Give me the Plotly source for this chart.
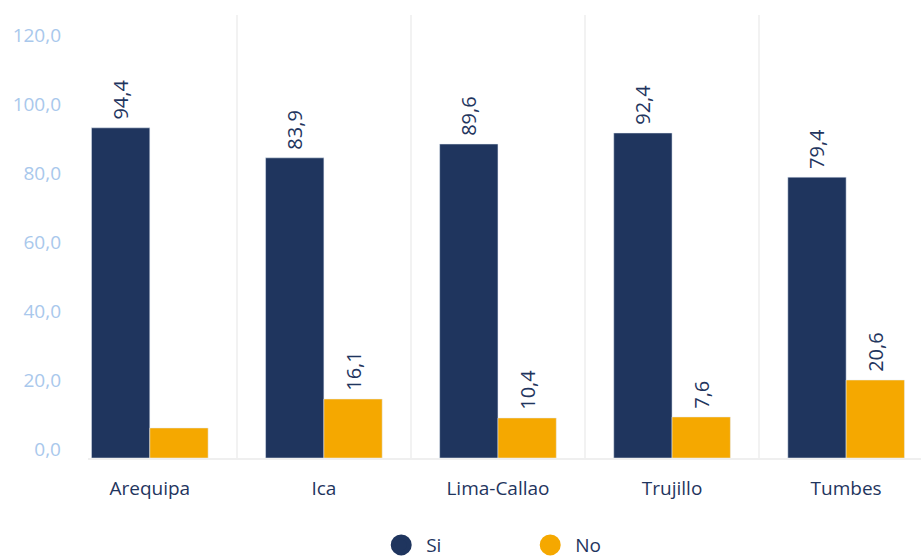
import plotly.graph_objects as go

categories = ["Arequipa", "Ica", "Lima-Callao", "Trujillo", "Tumbes"]
si_values = [95.7, 87.0, 91.0, 94.2, 81.4]
no_values = [8.7, 17.1, 11.6, 11.9, 22.6]
si_labels = ["94,4", "83,9", "89,6", "92,4", "79,4"]
no_labels = ["", "16,1", "10,4", "7,6", "20,6"]
y_ticks = [0, 20, 40, 60, 80, 100, 120]

NAVY = "#1f355e"
ORANGE = "#f5a800"
FONT = "Open Sans"
pad = "\u00a0"

fig = go.Figure()
fig.add_trace(go.Bar(
    x=categories, y=si_values, name="Si", marker_color=NAVY,
    text=[pad + t for t in si_labels], textposition="outside", textangle=-90,
    textfont=dict(color=NAVY, size=20, family=FONT), cliponaxis=False,
    showlegend=False,
))
fig.add_trace(go.Bar(
    x=categories, y=no_values, name="No", marker_color=ORANGE,
    text=[(pad + t) if t else "" for t in no_labels], textposition="outside", textangle=-90,
    textfont=dict(color=NAVY, size=20, family=FONT), cliponaxis=False,
    showlegend=False,
))
for nm, col in [("Si", NAVY), ("No", ORANGE)]:
    fig.add_trace(go.Scatter(
        x=[None], y=[None], mode="markers", name="\u00a0" + nm,
        marker=dict(symbol="circle", size=16, color=col, line=dict(color=col, width=12)),
    ))

fig.update_layout(
    width=921, height=559,
    margin=dict(l=88, r=0, t=15, b=101, pad=0),
    plot_bgcolor="white", paper_bgcolor="white",
    barmode="group", bargap=0.33, bargroupgap=0,
    separators=",.",
    font=dict(family=FONT, color=NAVY),
    legend=dict(orientation="h", x=0.352, xanchor="left", yref="container", y=0.025,
                yanchor="middle", tracegroupgap=0, borderwidth=0,
                font=dict(size=19, color=NAVY, family=FONT), entrywidth=104,
                itemsizing="trace"),
    xaxis=dict(
        range=[-0.355, 4.43], showgrid=True, gridcolor="#f2f2f2", gridwidth=2,
        tickson="boundaries", ticks="", showline=True, linecolor="#efefef", linewidth=2,
        tickfont=dict(size=19, color=NAVY, family=FONT), ticklabelstandoff=12,
        automargin=False,
    ),
    yaxis=dict(
        range=[0, 128.4], tickvals=y_ticks, tickformat=".1f", showgrid=False,
        zeroline=False, showline=False, ticks="",
        tickfont=dict(size=19, color="#a9c8ec", family=FONT),
        ticklabelshift=-9, ticklabelstandoff=26, automargin=False,
    ),
)
fig.write_html("out.html", config={"displayModeBar": False},
               post_script="document.body.style.margin='0px';")
